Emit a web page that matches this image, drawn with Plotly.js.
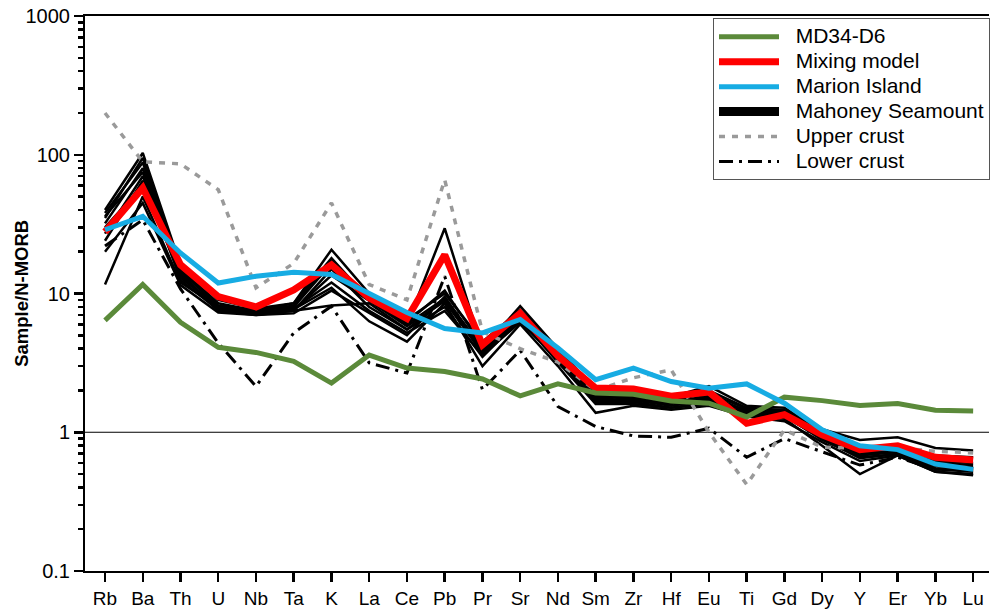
<!DOCTYPE html>
<html>
<head>
<meta charset="utf-8">
<script src="https://cdn.plot.ly/plotly-3.0.1.min.js"></script>
<style>
  html, body { margin: 0; padding: 0; background: #fff; }
  #chart { width: 990px; height: 609px; }
</style>
</head>
<body>
<div id="chart"></div>
<script>
// Trace elements, normalised to N-MORB
const elements = ['Rb','Ba','Th','U','Nb','Ta','K','La','Ce','Pb','Pr','Sr','Nd','Sm','Zr','Hf','Eu','Ti','Gd','Dy','Y','Er','Yb','Lu'];

const md34D6      = [6.4, 11.6, 6.2, 4.1, 3.76, 3.24, 2.26, 3.6, 2.9, 2.74, 2.42, 1.83, 2.23, 1.92, 1.88, 1.68, 1.62, 1.29, 1.79, 1.69, 1.56, 1.61, 1.44, 1.42];
const mixingModel = [27.8, 57.6, 16.1, 9.5, 8.0, 10.6, 16.1, 9.3, 6.6, 19.0, 4.27, 7.2, 3.55, 2.08, 2.05, 1.82, 1.95, 1.16, 1.34, 0.96, 0.75, 0.80, 0.66, 0.63];
const marionIsland = [28.8, 36.0, 19.6, 11.9, 13.3, 14.2, 13.7, 10.1, 7.3, 5.6, 5.2, 6.5, 4.05, 2.39, 2.9, 2.32, 2.08, 2.23, 1.62, 1.04, 0.80, 0.75, 0.59, 0.54];
const upperCrust  = [200, 89, 86, 56, 11.0, 16.5, 45, 11.6, 9.0, 66, 5.3, 4.0, 3.2, 2.0, 2.47, 2.82, 1.0, 0.42, 1.04, 0.78, 0.77, 0.77, 0.73, 0.71];
const lowerCrust  = [22, 34, 10.8, 4.4, 2.14, 5.2, 8.1, 3.16, 2.67, 13.3, 2.03, 3.9, 1.53, 1.10, 0.94, 0.92, 1.07, 0.66, 0.90, 0.72, 0.58, 0.66, 0.54, 0.55];

// Mahoney Seamount lavas
const mahoneyA = [35, 95, 15, 8.5, 7.5, 8.5, 18, 9.0, 6.0, 29.5, 4.0, 8.1, 4.0, 2.0, 1.9, 1.75, 2.0, 1.5, 1.45, 1.05, 0.88, 0.92, 0.77, 0.74];
const mahoneyB = [11.6, 50, 12, 8.0, 7.2, 7.5, 8.2, 8.5, 5.5, 8.0, 3.5, 6.5, 3.2, 1.6, 1.6, 1.5, 1.6, 1.3, 1.25, 0.80, 0.50, 0.68, 0.52, 0.49];
const mahoneyC = [40, 103, 16, 9.0, 7.8, 8.5, 20.7, 10.0, 6.5, 10.0, 4.5, 7.6, 4.0, 2.0, 1.9, 1.8, 2.15, 1.55, 1.5, 1.0, 0.78, 0.80, 0.68, 0.66];
const mahoneyD = [24, 65, 13, 8.0, 7.2, 7.7, 11, 6.3, 4.5, 8.5, 3.0, 6.0, 3.0, 1.38, 1.55, 1.45, 1.55, 1.3, 1.2, 0.85, 0.62, 0.68, 0.52, 0.50];
const mahoneyE = [32, 80, 14, 7.5, 7.0, 7.5, 15, 8.0, 5.5, 9.0, 3.8, 6.5, 3.5, 1.8, 1.75, 1.6, 1.8, 1.4, 1.35, 0.92, 0.70, 0.72, 0.57, 0.55];
const mahoneyF = [38, 88, 13.5, 7.8, 7.3, 7.8, 12, 7.5, 5.2, 7.5, 3.6, 6.2, 3.4, 1.7, 1.7, 1.55, 1.7, 1.35, 1.3, 0.90, 0.65, 0.70, 0.55, 0.53];
const mahoneyG = [20, 45, 11.5, 7.3, 7.0, 7.2, 10.5, 7.2, 5.0, 9.5, 3.9, 6.8, 3.6, 1.85, 1.8, 1.65, 1.75, 1.45, 1.4, 0.95, 0.72, 0.74, 0.60, 0.58];
const mahoneyH = [27, 70, 15, 8.2, 7.6, 8.0, 16.5, 9.5, 6.2, 10.5, 4.2, 7.2, 3.8, 1.9, 1.85, 1.7, 1.9, 1.48, 1.42, 0.98, 0.75, 0.76, 0.62, 0.60];
const mahoneyI = [36, 75, 12.5, 7.6, 7.1, 7.6, 13.5, 8.8, 5.8, 8.8, 3.7, 6.4, 3.3, 1.65, 1.65, 1.5, 1.65, 1.38, 1.32, 0.88, 0.66, 0.69, 0.54, 0.52];
const mahoneyJ = [30, 60, 14.5, 8.0, 7.4, 8.2, 17.5, 9.2, 6.0, 9.2, 4.1, 7.0, 3.7, 1.75, 1.7, 1.62, 1.85, 1.42, 1.38, 0.93, 0.68, 0.72, 0.58, 0.56];
const mahoneySamples = [mahoneyA, mahoneyB, mahoneyC, mahoneyD, mahoneyE, mahoneyF, mahoneyG, mahoneyH, mahoneyI, mahoneyJ];

const FONT = 'Liberation Sans, Arial, Helvetica, sans-serif';
const yRangeLog = [-1, 3];

// legend labels are set a little larger than the row spacing would give
function legendLabel(s) {
  return '<span style="font-size:21px">\u00a0\u00a0' + s + '</span>';
}

const traces = [];

// Mahoney Seamount: thin black lines, one legend entry drawn as a thick bar
mahoneySamples.forEach(function (vals) {
  traces.push({
    x: elements, y: vals, type: 'scatter', mode: 'lines',
    line: { color: '#000', width: 2.5 },
    showlegend: false, hoverinfo: 'skip'
  });
});
traces.push({
  x: elements, y: elements.map(function () { return null; }),
  type: 'scatter', mode: 'lines', name: legendLabel('Mahoney Seamount'),
  line: { color: '#000', width: 9 }, legendrank: 4
});

traces.push({
  x: elements, y: lowerCrust, type: 'scatter', mode: 'lines', name: legendLabel('Lower crust'),
  line: { color: '#000', width: 3, dash: '14px,6px,3px,6px' }, legendrank: 6
});
traces.push({
  x: elements, y: upperCrust, type: 'scatter', mode: 'lines', name: legendLabel('Upper crust'),
  line: { color: '#9a9a9a', width: 3.5, dash: '6px,7px' }, legendrank: 5
});
traces.push({
  x: elements, y: mixingModel, type: 'scatter', mode: 'lines', name: legendLabel('Mixing model'),
  line: { color: '#ff0000', width: 7 }, legendrank: 2
});
traces.push({
  x: elements, y: md34D6, type: 'scatter', mode: 'lines', name: legendLabel('MD34-D6'),
  line: { color: '#5b8a3a', width: 5 }, legendrank: 1
});
traces.push({
  x: elements, y: marionIsland, type: 'scatter', mode: 'lines', name: legendLabel('Marion Island'),
  line: { color: '#17ace3', width: 5 }, legendrank: 3
});

// minor ticks at 2..9 of every decade
const minorVals = [];
for (let e = -1; e < 3; e++) {
  for (let m = 2; m <= 9; m++) minorVals.push(m * Math.pow(10, e));
}

const layout = {
  width: 990, height: 609,
  margin: { l: 85, r: 0, t: 16, b: 38 },
  paper_bgcolor: '#fff', plot_bgcolor: '#fff',
  font: { family: FONT, color: '#000', size: 19 },
  showlegend: true,
  xaxis: {
    type: 'category',
    range: [-0.53, 23.42],
    showline: true, linecolor: '#000', linewidth: 2, mirror: true,
    ticks: 'outside', ticklen: 9, tickwidth: 2.5, tickcolor: '#000',
    showgrid: false, zeroline: false,
    tickfont: { family: FONT, size: 19, color: '#000' }
  },
  yaxis: {
    type: 'log',
    range: yRangeLog,
    showline: true, linecolor: '#000', linewidth: 2,
    ticks: 'outside', ticklen: 9, tickwidth: 2.5, tickcolor: '#000',
    tickvals: [0.1, 1, 10, 100, 1000],
    ticktext: ['0.1', '1', '10', '100', '1000'],
    minor: { tickvals: minorVals, ticks: 'outside', ticklen: 5, tickwidth: 2.5, tickcolor: '#000', showgrid: false },
    showgrid: false, zeroline: false,
    tickfont: { family: FONT, size: 20, color: '#000' }
  },
  legend: {
    x: 0.695, y: 0.996, xanchor: 'left', yanchor: 'top',
    bgcolor: '#fff', bordercolor: '#555', borderwidth: 1,
    font: { family: FONT, size: 16.9, color: '#000' },
    itemwidth: 60,
    traceorder: 'normal'
  },
  shapes: [{
    // reference line at Sample/N-MORB = 1
    type: 'line', xref: 'paper', yref: 'y domain',
    x0: 0, x1: 1,
    y0: (0 - yRangeLog[0]) / (yRangeLog[1] - yRangeLog[0]),
    y1: (0 - yRangeLog[0]) / (yRangeLog[1] - yRangeLog[0]),
    line: { color: '#000', width: 1.2 }, layer: 'below'
  }],
  annotations: [{
    text: '<b>Sample/N-MORB</b>', textangle: -90,
    xref: 'paper', yref: 'paper', x: -0.0705, y: 0.5,
    xanchor: 'center', yanchor: 'middle', showarrow: false,
    font: { family: FONT, size: 18.5, color: '#000' }
  }]
};

Plotly.newPlot('chart', traces, layout, { displayModeBar: false, staticPlot: true });
</script>
</body>
</html>
